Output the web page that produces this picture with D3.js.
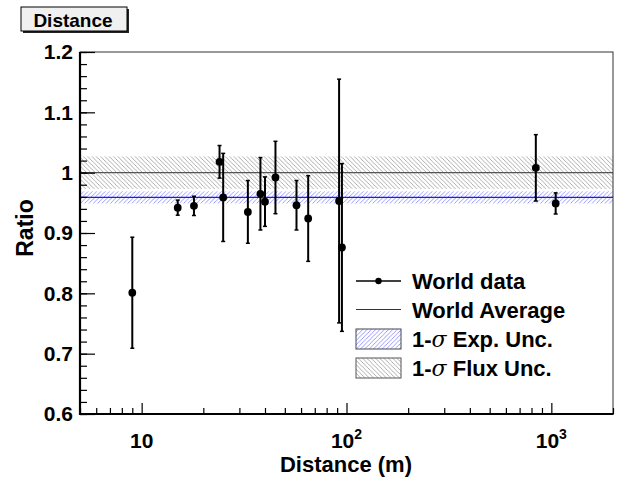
<!DOCTYPE html>
<html lang="en">
<head>
	<meta charset="UTF-8">
	<title>Distance</title>
	<script src="https://d3js.org/d3.v7.min.js"></script>
	<style>
		body { margin: 0; background: #fff; }
		text { font-family: "Liberation Sans", Arial, sans-serif; font-weight: bold; }
	</style>
</head>
<body>
	<div id="main"></div>
<script>
	// experiments: baseline (m), measured/expected ratio, error
	var distances = [9, 15, 18, 24, 25, 33, 38, 40, 45, 57, 65, 92, 95, 840, 1050];
	var ratios    = [0.801, 0.942, 0.945, 1.018, 0.959, 0.935, 0.965, 0.952, 0.992, 0.946, 0.924, 0.953, 0.876, 1.008, 0.949];
	var errors    = [0.092, 0.0125, 0.016, 0.027, 0.073, 0.052, 0.06, 0.041, 0.06, 0.041, 0.071, 0.202, 0.139, 0.055, 0.0175];

	var worldAvg = 0.959, expUnc = 0.010;
	var fluxRef = 1.0, fluxUnc = 0.027;

	var yTicks = [0.6, 0.7, 0.8, 0.9, 1.0, 1.1, 1.2];
	var yTickLabels = ["0.6", "0.7", "0.8", "0.9", "1", "1.1", "1.2"];
	var xTicks = [10, 100, 1000];
	var xTickExp = ["", "2", "3"];

	var legendNames = ["World data", "World Average", "Exp. Unc.", "Flux Unc."];

	var W = 621, H = 477;
	var pL = 80, pR = 613, pT = 52, pB = 414;

	var svg = d3.select("#main").append("svg")
		.attr("width", W).attr("height", H);

	var defs = svg.append("defs");
	defs.append("pattern").attr("id", "hatchFlux")
		.attr("patternUnits", "userSpaceOnUse").attr("width", 4.3).attr("height", 4.3)
		.append("path").attr("d", "M-1,-1 L5.3,5.3 M-1,3.3 L1,5.3 M3.3,-1 L5.3,1")
		.attr("stroke", "#999").attr("stroke-width", 0.8);
	defs.append("pattern").attr("id", "hatchExp")
		.attr("patternUnits", "userSpaceOnUse").attr("width", 4.3).attr("height", 4.3)
		.append("path").attr("d", "M-1,5.3 L5.3,-1 M-1,1 L1,-1 M3.3,5.3 L5.3,3.3")
		.attr("stroke", "#8080ff").attr("stroke-width", 0.8);

	var x = d3.scaleLog().domain([5, 2000]).range([pL, pR]);
	var y = d3.scaleLinear().domain([0.6, 1.2]).range([pB, pT]);

	//bands and reference lines
	svg.append("rect")
		.attr("x", pL).attr("width", pR - pL)
		.attr("y", y(fluxRef + fluxUnc)).attr("height", y(fluxRef - fluxUnc) - y(fluxRef + fluxUnc))
		.attr("fill", "url(#hatchFlux)");
	svg.append("rect")
		.attr("x", pL).attr("width", pR - pL)
		.attr("y", y(worldAvg + expUnc)).attr("height", y(worldAvg - expUnc) - y(worldAvg + expUnc))
		.attr("fill", "url(#hatchExp)");
	svg.append("line")
		.attr("x1", pL).attr("x2", pR).attr("y1", y(fluxRef)).attr("y2", y(fluxRef))
		.attr("stroke", "#555").attr("stroke-width", 1.2);
	svg.append("line")
		.attr("x1", pL).attr("x2", pR).attr("y1", y(worldAvg)).attr("y2", y(worldAvg))
		.attr("stroke", "#1a1aff").attr("stroke-width", 1.4);

	//frame
	svg.append("rect")
		.attr("x", pL).attr("y", pT).attr("width", pR - pL).attr("height", pB - pT)
		.attr("fill", "none").attr("stroke", "#333").attr("stroke-width", 1);

	//y axis
	var yMinor = d3.range(0.6, 1.2001, 0.02);
	svg.append("g").attr("transform", "translate(" + pL + ",0)")
		.call(d3.axisLeft(y).tickValues(yMinor).tickSize(-7).tickFormat(""))
		.call(function(g){ g.select(".domain").remove(); g.selectAll("line").attr("stroke", "#000").attr("stroke-width", 1.2); });
	svg.append("g").attr("transform", "translate(" + pL + ",0)")
		.call(d3.axisLeft(y).tickValues(yTicks).tickSize(-15).tickPadding(7)
			.tickFormat(function(d, i){ return yTickLabels[i]; }))
		.call(function(g){
			g.select(".domain").remove();
			g.selectAll("line").attr("stroke", "#000").attr("stroke-width", 1.2);
			g.selectAll("text").attr("font-size", 21).attr("font-family", "Liberation Sans").attr("font-weight", "bold").attr("fill", "#000");
		});

	//x axis
	var xMinor = [];
	[1, 10, 100, 1000].forEach(function(dec){
		for (var k = 2; k <= 9; k++) {
			var v = k * dec;
			if (v >= 5 && v <= 2000) xMinor.push(v);
		}
	});
	svg.append("g").attr("transform", "translate(0," + pB + ")")
		.call(d3.axisBottom(x).tickValues(xMinor).tickSize(-6).tickFormat(""))
		.call(function(g){ g.select(".domain").remove(); g.selectAll("line").attr("stroke", "#000").attr("stroke-width", 1.2); });
	svg.append("g").attr("transform", "translate(0," + pB + ")")
		.call(d3.axisBottom(x).tickValues(xTicks).tickSize(-11).tickFormat(""))
		.call(function(g){ g.select(".domain").remove(); g.selectAll("line").attr("stroke", "#000").attr("stroke-width", 1.2); });

	var xl = svg.selectAll(".xlab").data(xTicks).enter().append("text")
		.attr("class", "xlab")
		.attr("x", function(d){ return x(d); })
		.attr("y", pB + 34)
		.attr("text-anchor", "middle")
		.attr("font-size", 21);
	xl.append("tspan").text("10");
	xl.append("tspan").attr("dy", -9).attr("font-size", 14)
		.text(function(d, i){ return xTickExp[i]; });

	//thick axis lines
	svg.append("line").attr("x1", pL).attr("x2", pL).attr("y1", pT).attr("y2", pB + 1)
		.attr("stroke", "#000").attr("stroke-width", 2.2);
	svg.append("line").attr("x1", pL - 1).attr("x2", pR + 0.5).attr("y1", pB).attr("y2", pB)
		.attr("stroke", "#000").attr("stroke-width", 2.2);

	//axis titles
	svg.append("text")
		.attr("x", 346).attr("y", 472)
		.attr("text-anchor", "middle").attr("font-size", 22)
		.text("Distance (m)");
	svg.append("text")
		.attr("transform", "translate(33,228) rotate(-90)")
		.attr("text-anchor", "middle").attr("font-size", 23)
		.text("Ratio");

	//data points with error bars
	var pts = svg.append("g");
	distances.forEach(function(d, i){
		var cx = x(d);
		pts.append("line")
			.attr("x1", cx).attr("x2", cx)
			.attr("y1", y(ratios[i] + errors[i])).attr("y2", y(ratios[i] - errors[i]))
			.attr("stroke", "#000").attr("stroke-width", 2);
		[ratios[i] + errors[i], ratios[i] - errors[i]].forEach(function(v){
			pts.append("line")
				.attr("x1", cx - 2).attr("x2", cx + 2).attr("y1", y(v)).attr("y2", y(v))
				.attr("stroke", "#000").attr("stroke-width", 1.5);
		});
		pts.append("circle").attr("cx", cx).attr("cy", y(ratios[i])).attr("r", 3.9).attr("fill", "#000");
	});

	//legend
	var lg = svg.append("g");
	var lx0 = 356, lx1 = 401, tx = 412;
	var rows = [281, 309.5, 339, 368];
	lg.append("line").attr("x1", lx0).attr("x2", lx1).attr("y1", rows[0]).attr("y2", rows[0])
		.attr("stroke", "#000").attr("stroke-width", 1.5);
	lg.append("circle").attr("cx", (lx0 + lx1) / 2).attr("cy", rows[0]).attr("r", 3.2).attr("fill", "#000");
	lg.append("line").attr("x1", lx0).attr("x2", lx1).attr("y1", rows[1]).attr("y2", rows[1])
		.attr("stroke", "#1a1aff").attr("stroke-width", 1.2);
	lg.append("rect").attr("x", lx0).attr("y", rows[2] - 10).attr("width", lx1 - lx0).attr("height", 20)
		.attr("fill", "url(#hatchExp)").attr("stroke", "#445").attr("stroke-width", 1);
	lg.append("rect").attr("x", lx0).attr("y", rows[3] - 10).attr("width", lx1 - lx0).attr("height", 20)
		.attr("fill", "url(#hatchFlux)").attr("stroke", "#555").attr("stroke-width", 1);

	legendNames.forEach(function(name, i){
		var t = lg.append("text").attr("x", tx).attr("y", rows[i] + 8).attr("font-size", 22);
		if (i >= 2) {
			t.append("tspan").text("1-");
			t.append("tspan").attr("font-family", "DejaVu Serif").attr("font-style", "italic").attr("font-weight", "normal").text("\u03c3");
			t.append("tspan").text(" " + name);
		} else {
			t.text(name);
		}
	});

	//title box
	svg.append("rect").attr("x", 23).attr("y", 9).attr("width", 106).attr("height", 24).attr("fill", "#222");
	svg.append("rect").attr("x", 21).attr("y", 7).attr("width", 106).attr("height", 24)
		.attr("fill", "#f0f0f0").attr("stroke", "#000").attr("stroke-width", 1);
	svg.append("text").attr("x", 73).attr("y", 26.5).attr("text-anchor", "middle").attr("font-size", 19)
		.text("Distance");
</script>
</body>
</html>
